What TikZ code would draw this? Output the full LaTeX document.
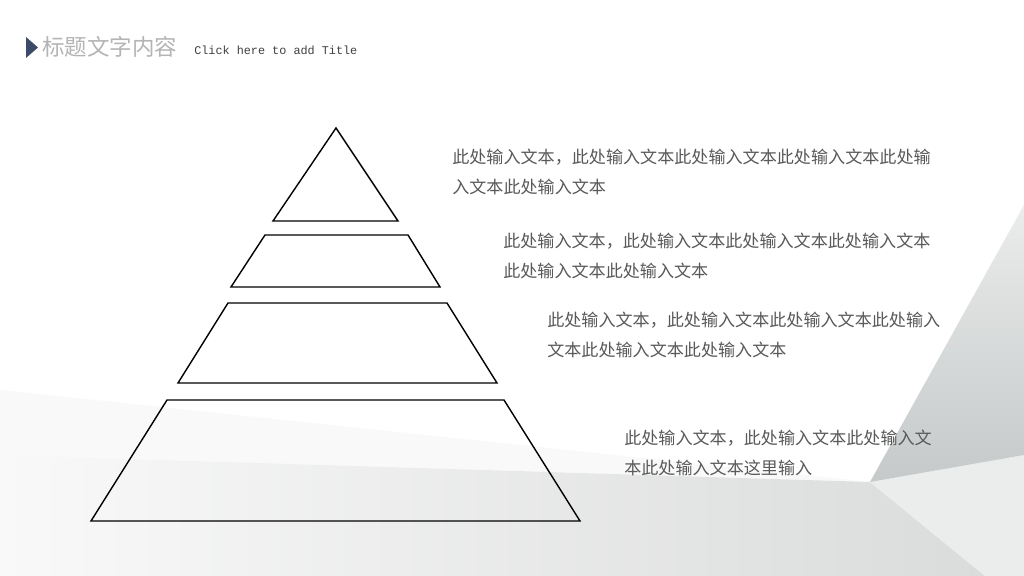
\documentclass[tikz,border=0pt]{standalone}
\usepackage{fontspec}
\setmonofont{Liberation Mono}
\newfontfamily\cjk{Noto Sans CJK SC}
\usetikzlibrary{arrows.meta}

\definecolor{bodygray}{HTML}{595959}
\definecolor{titlegray}{HTML}{B4B4B4}
\definecolor{navy}{HTML}{3B4A68}
\definecolor{bgA}{HTML}{F8F9F8}
\definecolor{bgB}{HTML}{DADBDB}
\definecolor{bgC}{HTML}{C5C9C9}
\definecolor{bgD}{HTML}{EBECEC}

\tikzset{
  layer/.style={draw=black, line width=1pt, line join=miter},
  note/.style={font=\cjk\fontsize{12.15}{21.3}\selectfont, text=bodygray,
    align=left, anchor=north west, inner sep=0pt}
}

\begin{document}
\begin{tikzpicture}[x=0.025cm, y=-0.025cm]
            \useasboundingbox (0,0) rectangle (1024,576);
            \fill[white] (0,0) rectangle (1024,576);
            % background facets
            \fill[bgA] (0,390) -- (870,482) -- (0,455) -- cycle;
            \shade[left color=bgA, right color=bgB] (0,455) -- (870,482) -- (985,576) -- (0,576) -- cycle;
            \fill[bgD] (870,482) -- (1024,455) -- (1024,576) -- (985,576) -- cycle;
            \shade[top color=bgD, bottom color=bgC] (1024,205) -- (870,482) -- (1024,455) -- cycle;
            % title
            \fill[navy] (26,37) -- (38,47.5) -- (26,58) -- cycle;
            \node [anchor=west, inner sep=0pt, text=titlegray, font=\cjk\fontsize{16}{18}\selectfont] (title) at (42,47) {标题文字内容};
            \node [anchor=west, inner sep=0pt, text=black!75, font=\ttfamily\fontsize{8.4}{10}\selectfont] (subtitle) at (194,50) {Click here to add Title};
            % pyramid
            \coordinate (apex) at (336,128);
            \coordinate (tL) at (273,221);
            \coordinate (tR) at (398,221);
            \coordinate (aTL) at (265,235);
            \coordinate (aTR) at (408,235);
            \coordinate (aBL) at (231,287);
            \coordinate (aBR) at (440,287);
            \coordinate (bTL) at (228,303);
            \coordinate (bTR) at (447,303);
            \coordinate (bBL) at (178,383);
            \coordinate (bBR) at (497,383);
            \coordinate (cTL) at (167,400);
            \coordinate (cTR) at (504,400);
            \coordinate (cBL) at (91,521);
            \coordinate (cBR) at (580,521);
            \draw [layer] (apex) -- (tR) -- (tL) -- cycle;
            \draw [layer] (aTL) -- (aTR) -- (aBR) -- (aBL) -- cycle;
            \draw [layer] (bTL) -- (bTR) -- (bBR) -- (bBL) -- cycle;
            \draw [layer] (cTL) -- (cTR) -- (cBR) -- (cBL) -- cycle;
            % notes
            \node [note] (noteA) at (452,149) {此处输入文本，此处输入文本此处输入文本此处输入文本此处输\\入文本此处输入文本};
            \node [note] (noteB) at (503,233) {此处输入文本，此处输入文本此处输入文本此处输入文本\\此处输入文本此处输入文本};
            \node [note] (noteC) at (547,312) {此处输入文本，此处输入文本此处输入文本此处输入\\文本此处输入文本此处输入文本};
            \node [note] (noteD) at (624,430) {此处输入文本，此处输入文本此处输入文\\本此处输入文本这里输入};
        \end{tikzpicture}
\end{document}
